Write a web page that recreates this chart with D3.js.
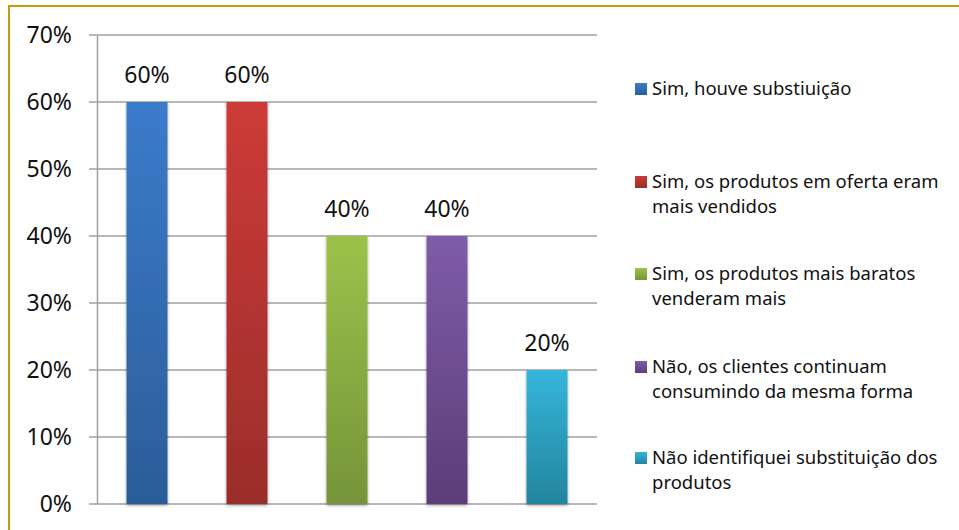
<!DOCTYPE html>
<html><head><meta charset="utf-8">
<script src="https://cdn.jsdelivr.net/npm/d3@7/dist/d3.min.js"></script>
<style>
html,body{margin:0;padding:0;background:#fff;}
svg{display:block;font-family:"Noto Sans","Open Sans",sans-serif;}
</style></head>
<body>
<svg id="chart" width="959" height="530"></svg>
<script>
const categories = [
  "Sim, houve substiuição",
  "Sim, os produtos em oferta eram mais vendidos",
  "Sim, os produtos mais baratos venderam mais",
  "Não, os clientes continuam consumindo da mesma forma",
  "Não identifiquei substituição dos produtos"
];
const legendLines = [
  ["Sim, houve substiuição"],
  ["Sim, os produtos em oferta eram", "mais vendidos"],
  ["Sim, os produtos mais baratos", "venderam mais"],
  ["Não, os clientes continuam", "consumindo da mesma forma"],
  ["Não identifiquei substituição dos", "produtos"]
];
const values = [0.60, 0.60, 0.40, 0.40, 0.20];
const yTicks = [0, 0.1, 0.2, 0.3, 0.4, 0.5, 0.6, 0.7];
const colorsTop = ["#3b7bcb", "#cd3b37", "#9cc24a", "#7f5ca8", "#35b6da"];
const colorsBottom = ["#2b5d98", "#9a2d2b", "#76943a", "#5c3d79", "#23849d"];

const svg = d3.select("#chart");
const defs = svg.append("defs");
const f = defs.append("filter").attr("id","sh").attr("x","-20%").attr("y","-5%").attr("width","140%").attr("height","115%");
f.append("feDropShadow").attr("dx",0).attr("dy",1.5).attr("stdDeviation",1.8).attr("flood-color","#000").attr("flood-opacity",0.35);

const x = d3.scaleBand().domain(categories).range([97,597]).paddingInner(0.59).paddingOuter(0.295);
const y = d3.scaleLinear().domain([0,0.7]).range([504,35]);

categories.forEach((c,i)=>{
  const g = defs.append("linearGradient").attr("id","g"+i).attr("gradientUnits","userSpaceOnUse")
    .attr("x1",0).attr("x2",0).attr("y1",y(values[i])).attr("y2",y(0));
  g.append("stop").attr("offset","0").attr("stop-color",colorsTop[i]);
  g.append("stop").attr("offset","1").attr("stop-color",colorsBottom[i]);
  const lgr = defs.append("linearGradient").attr("id","lg"+i).attr("x1",0).attr("y1",0).attr("x2",0).attr("y2",1);
  lgr.append("stop").attr("offset","0").attr("stop-color",colorsTop[i]);
  lgr.append("stop").attr("offset","1").attr("stop-color",colorsBottom[i]);
});

// border
svg.append("rect").attr("x",9).attr("y",6).attr("width",980).attr("height",560)
  .attr("fill","none").attr("stroke","#c7990d").attr("stroke-width",2);

// gridlines
svg.append("g").selectAll("line").data(yTicks).join("line")
  .attr("x1",89).attr("x2",597)
  .attr("y1",d=>y(d)).attr("y2",d=>y(d))
  .attr("stroke","#a0a0a0").attr("stroke-width",1.5);

// y axis
const yAxis = d3.axisLeft(y).tickValues(yTicks).tickFormat(d3.format(".0%")).tickSize(0).tickPadding(25);
const ya = svg.append("g").attr("transform","translate(97,0)").call(yAxis);
ya.select(".domain").attr("stroke","#a0a0a0").attr("stroke-width",1.5);
ya.selectAll("text").attr("font-size",23).attr("fill","#111").attr("font-family","'Noto Sans',sans-serif");

// bars
svg.append("g").selectAll("rect").data(values).join("rect")
  .attr("x",(d,i)=>x(categories[i]))
  .attr("y",d=>y(d))
  .attr("width",x.bandwidth())
  .attr("height",d=>y(0)-y(d))
  .attr("fill",(d,i)=>`url(#g${i})`)
  .attr("filter","url(#sh)");

// value labels
svg.append("g").selectAll("text").data(values).join("text")
  .attr("x",(d,i)=>x(categories[i])+x.bandwidth()/2)
  .attr("y",d=>y(d)-19)
  .attr("text-anchor","middle")
  .attr("font-size",23).attr("fill","#111")
  .text(d=>d3.format(".0%")(d));

// legend
const baselines = [95, 188, 280, 373, 464];
const lg = svg.append("g");
legendLines.forEach((lines,i)=>{
  lg.append("rect").attr("x",635).attr("y",baselines[i]-12).attr("width",12).attr("height",12)
    .attr("fill",`url(#lg${i})`);
  const t = lg.append("text").attr("x",652).attr("y",baselines[i]).attr("font-size",18.5).attr("fill","#111");
  lines.forEach((ln,j)=>{
    t.append("tspan").attr("x",652).attr("dy", j===0?0:25).text(ln);
  });
});
</script>
</body></html>
